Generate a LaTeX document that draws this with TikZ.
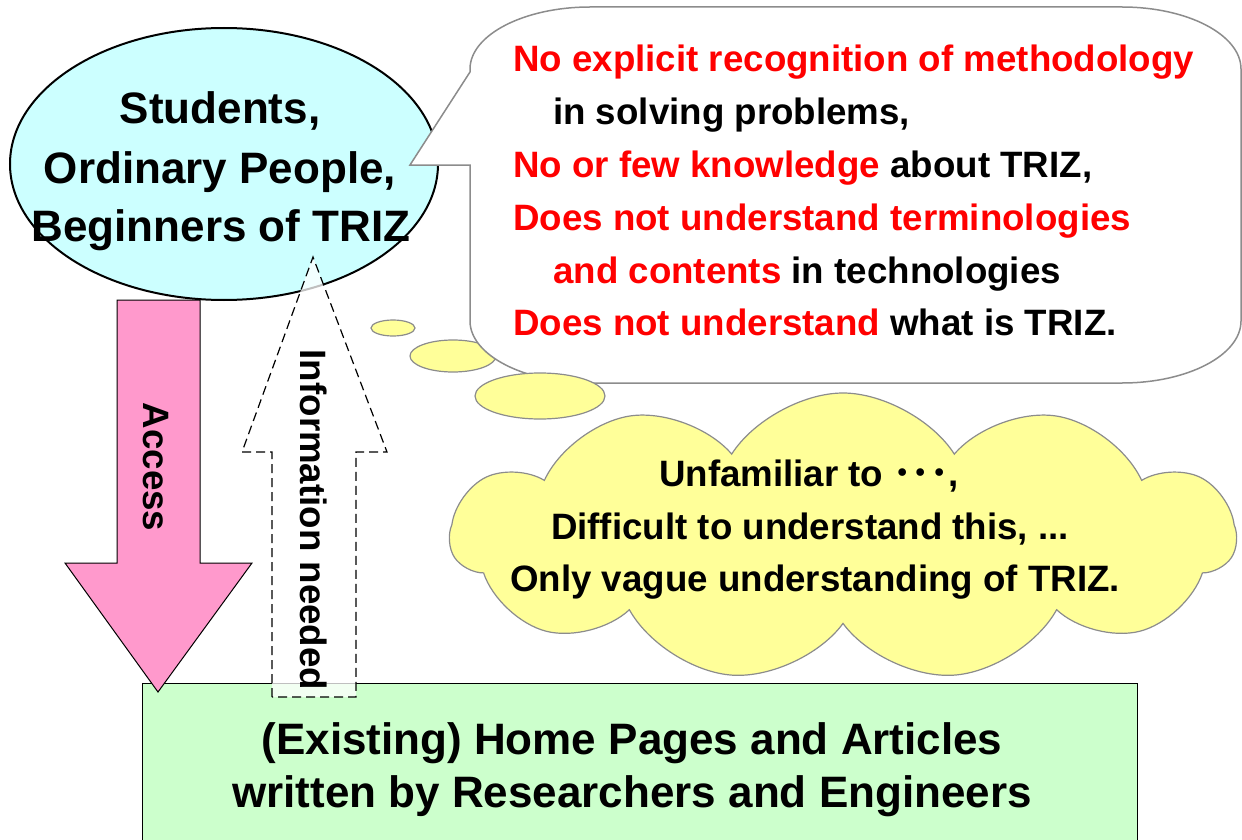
\documentclass[tikz,border=0pt]{standalone}
\usepackage{fontspec}
\setmainfont{Liberation Sans}
\newfontfamily\cjkfont{Noto Sans CJK JP}
\usetikzlibrary{shapes.symbols}
\definecolor{ellcyan}{HTML}{CCFFFF}
\definecolor{arrpink}{HTML}{FF99CC}
\definecolor{boxgreen}{HTML}{CCFFCC}
\definecolor{cloudyellow}{HTML}{FFFF99}
\definecolor{bubblegray}{HTML}{8C8C8C}
\definecolor{txtred}{HTML}{FF0000}
\tikzset{
  bigtext/.style={font=\fontsize{44}{53}\selectfont\bfseries, inner sep=0pt},
  midtext/.style={font=\fontsize{36.7}{52}\selectfont\bfseries, inner sep=0pt},
  thought/.style={draw=bubblegray, fill=cloudyellow, line width=1.2pt},
}
\begin{document}
\begin{tikzpicture}[x=1pt,y=-1pt]
\useasboundingbox (0,0) rectangle (1242,840);
% green box
\draw[fill=boxgreen, line width=1pt] (142,683) rectangle (1137,845);
\node[bigtext, anchor=base] (g1) at (632,754) {(Existing) Home Pages and Articles};
\node[bigtext, anchor=base] (g2) at (632,807) {written by Researchers and Engineers};
% ellipse
\draw[fill=ellcyan, line width=2pt] (224,164) ellipse [x radius=214, y radius=136];
\coordinate (ellc) at (224,164);
\node[bigtext, anchor=base] (e1) at (220,124) {Students,};
\node[bigtext, anchor=base] (e2) at (220,183) {Ordinary People,};
\node[bigtext, anchor=base] (e3) at (221,241) {Beginners of TRIZ};
% small thought ellipses
\draw[thought] (393,328) ellipse [x radius=22, y radius=8];
\draw[thought] (453,356) ellipse [x radius=43, y radius=16];
% speech bubble
\draw[draw=bubblegray, fill=white, line width=1.5pt]
  (470,72) -- (410,165) -- (470,165) -- (470,321)
  .. controls (470,355) and (524,383) .. (590,383) -- (1122,383)
  .. controls (1188,383) and (1241,355) .. (1241,321) -- (1241,69)
  .. controls (1241,35) and (1188,7) .. (1122,7) -- (590,7)
  .. controls (524,7) and (470,35) .. (470,69) -- cycle;
\node[midtext, anchor=base west, text=txtred] (s1) at (513,72) {No explicit recognition of methodology};
\node[midtext, anchor=base west] (s2) at (553,125) {in solving problems,};
\node[midtext, anchor=base west] (s3) at (513,178) {\textcolor{txtred}{No or few knowledge} about TRIZ,};
\node[midtext, anchor=base west, text=txtred] (s4) at (513,230) {Does not understand terminologies};
\node[midtext, anchor=base west] (s5) at (553,283) {\textcolor{txtred}{and contents} in technologies};
\node[midtext, anchor=base west] (s6) at (513,335) {\textcolor{txtred}{Does not understand} what is TRIZ.};
% third thought ellipse
\draw[thought] (540,396) ellipse [x radius=65, y radius=23];
% cloud
\node[cloud, draw=bubblegray, fill=cloudyellow, line width=1.2pt, cloud puffs=11, cloud puff arc=115, aspect=2.7, minimum width=785pt, minimum height=288pt, inner sep=0pt] (cloud) at (843,537) {};
\node[midtext, anchor=base] (c1) at (809,486) {Unfamiliar to {\cjkfont\bfseries ･･･},};
\node[midtext, anchor=base] (c2) at (810,539) {Difficult to understand this, ...};
\node[midtext, anchor=base] (c3) at (815,591) {Only vague understanding of TRIZ.};
% pink arrow (Access)
\draw[fill=arrpink, line width=1pt] (117,300) -- (200,300) -- (200,563) -- (252,563) -- (158,692) -- (65,563) -- (117,563) -- cycle;
\node[midtext, anchor=base, rotate=-90] (acc) at (143,467) {Access};
% dashed arrow (Information needed)
\draw[fill=white, fill opacity=0.75, dashed, dash pattern=on 9pt off 5pt, line width=1.2pt] (272,697) -- (272,452) -- (242,452) -- (313,257) -- (387,452) -- (356,452) -- (356,697) -- cycle;
\node[midtext, anchor=base, rotate=-90] (info) at (300,520) {Information needed};
\end{tikzpicture}
\end{document}
